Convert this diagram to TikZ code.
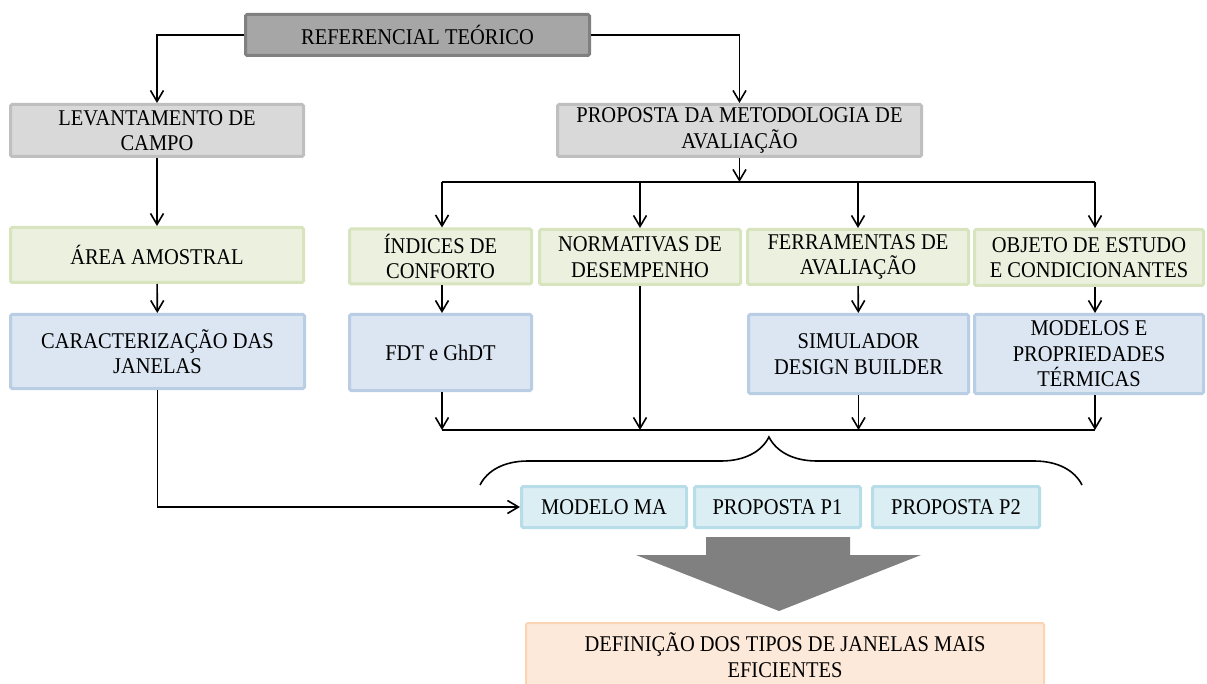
\documentclass[tikz,border=0pt]{standalone}
\usepackage{fontspec}
\setmainfont{Liberation Serif}[FakeStretch=0.91]
\usetikzlibrary{arrows.meta,decorations.pathreplacing}
\definecolor{refgray}{HTML}{A6A6A6}
\definecolor{refedge}{HTML}{808080}
\definecolor{lightgray}{HTML}{D9D9D9}
\definecolor{lightedge}{HTML}{BFBFBF}
\definecolor{greenfill}{HTML}{EBF1DE}
\definecolor{greenedge}{HTML}{D7E4BD}
\definecolor{bluefill}{HTML}{DCE6F2}
\definecolor{blueedge}{HTML}{B9CDE5}
\definecolor{cyanfill}{HTML}{DBEEF4}
\definecolor{cyanedge}{HTML}{B7DDE8}
\definecolor{peachfill}{HTML}{FDE9D9}
\definecolor{peachedge}{HTML}{FBD4B4}
\tikzset{
  box/.style={rectangle, rounded corners=1.5pt, line width=3pt, align=center,
    inner sep=0pt, font=\fontsize{22.5}{25.5}\selectfont},
  refbox/.style={box, fill=refgray, draw=refedge},
  graybox/.style={box, fill=lightgray, draw=lightedge},
  greenbox/.style={box, fill=greenfill, draw=greenedge},
  bluebox/.style={box, fill=bluefill, draw=blueedge},
  cyanbox/.style={box, fill=cyanfill, draw=cyanedge},
  peachbox/.style={box, fill=peachfill, draw=peachedge, line width=2pt},
  link/.style={line width=1.6pt, -{Straight Barb[length=11pt,width=13pt,line width=1.6pt]}},
  bus/.style={line width=2.5pt}
}
\begin{document}
\begin{tikzpicture}[x=1pt, y=-1pt]
  \useasboundingbox (0,0) rectangle (1207,684);
  \node[refbox, minimum width=344pt, minimum height=41pt] (ref) at (417.5,35) {REFERENCIAL TEÓRICO};
  \node[graybox, minimum width=293pt, minimum height=52pt] (levant) at (157,130.5) {LEVANTAMENTO DE\\CAMPO};
  \node[graybox, minimum width=364pt, minimum height=52pt] (proposta) at (739.5,130.5) {PROPOSTA DA METODOLOGIA DE\\AVALIAÇÃO};
  \node[greenbox, minimum width=293pt, minimum height=55pt] (area) at (157,255) {ÁREA AMOSTRAL};
  \node[greenbox, minimum width=182pt, minimum height=55pt] (indices) at (440.5,256.5) {ÍNDICES DE\\CONFORTO};
  \node[greenbox, minimum width=201pt, minimum height=55pt] (normativas) at (640,257) {NORMATIVAS DE\\DESEMPENHO};
  \node[greenbox, minimum width=221pt, minimum height=55pt] (ferramentas) at (858,257) {FERRAMENTAS DE\\AVALIAÇÃO};
  \node[greenbox, minimum width=229pt, minimum height=56pt] (objeto) at (1089,257.5) {OBJETO DE ESTUDO\\E CONDICIONANTES};
  \node[bluebox, minimum width=294pt, minimum height=74pt] (caract) at (157.5,351.5) {CARACTERIZAÇÃO DAS\\JANELAS};
  \node[bluebox, minimum width=182pt, minimum height=76pt] (fdt) at (440.5,352.5) {FDT e GhDT};
  \node[bluebox, minimum width=220pt, minimum height=79pt] (simul) at (858.5,354) {SIMULADOR\\DESIGN BUILDER};
  \node[bluebox, minimum width=229pt, minimum height=79pt] (modelos) at (1089,354) {MODELOS E\\PROPRIEDADES\\TÉRMICAS};
  \node[cyanbox, minimum width=165pt, minimum height=41pt] (ma) at (604,507) {MODELO MA};
  \node[cyanbox, minimum width=166pt, minimum height=41pt] (p1) at (777.5,507) {PROPOSTA P1};
  \node[cyanbox, minimum width=167pt, minimum height=41pt] (p2) at (956,507) {PROPOSTA P2};
  \node[peachbox, minimum width=518pt, minimum height=64pt] (defin) at (785,655) {DEFINIÇÃO DOS TIPOS DE JANELAS MAIS\\EFICIENTES};
  \coordinate (tl) at (442,182);
  \coordinate (tr) at (1095,182);
  \coordinate (bl) at (442,430);
  \coordinate (br) at (1095,430);
  \draw[link] (ref.west) -| (levant.north);
  \draw[link] (ref.east) -| (proposta.north);
  \draw[link] (levant) -- (area);
  \draw[link] (area) -- (caract);
  \draw[link] (proposta.south) -- (proposta.south |- tl);
  \draw[bus] (tl) -- (tr);
  \draw[link] (tl) -- (tl |- indices.north);
  \draw[link] (normativas.north |- tl) -- (normativas.north);
  \draw[link] (ferramentas.north |- tl) -- (ferramentas.north);
  \draw[link] (tr) -- (tr |- objeto.north);
  \draw[link] (tl |- indices.south) -- (tl |- fdt.north);
  \draw[link] (ferramentas) -- (simul);
  \draw[link] (tr |- objeto.south) -- (tr |- modelos.north);
  \draw[link] (bl |- fdt.south) -- (bl);
  \draw[link] (normativas.south) -- (normativas.south |- bl);
  \draw[link] (simul.south) -- (simul.south |- bl);
  \draw[link] (br |- modelos.south) -- (br);
  \draw[bus] (bl) -- (br);
  \draw[line width=1.6pt, decorate, decoration={brace, amplitude=48pt, aspect=0.48}] (480,485) -- (1082,485);
  \draw[link] (caract.south) |- (ma.west);
  \fill[refedge] (706,537) -- (850,537) -- (850,555) -- (921,555) -- (779,611) -- (636,555) -- (706,555) -- cycle;
\end{tikzpicture}
\end{document}
